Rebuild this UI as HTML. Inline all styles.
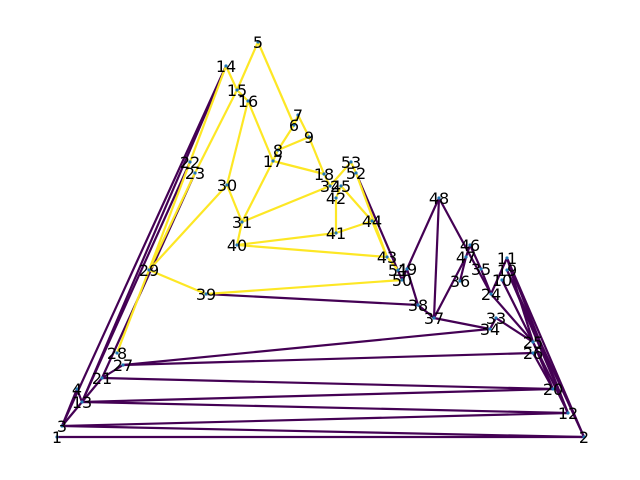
<!DOCTYPE html>
<html><head><meta charset="utf-8"><style>
body{margin:0;background:#fff}
svg{display:block}
text{font-family:"DejaVu Sans","Liberation Sans",sans-serif;font-size:16px;fill:#000}
</style></head><body>
<svg id="chart" width="640" height="480" viewBox="0 0 640 480"></svg>
<script>
const nodeIds=[1,2,3,4,5,6,7,8,9,10,11,12,13,14,15,16,17,18,19,20,21,22,23,24,25,26,27,28,29,30,31,32,33,34,35,36,37,38,39,40,41,42,43,44,45,46,47,48,49,50,51,52,53];
const nodeX=[57,584,62,77,258,294,298,278,309,502,507,568,82,226,237,248,273,324,507,553,102,190,195,491,533,533,123,117,149,227,242,330,496,490,481,460,434,418,206,237,336,336,387,372,341,470,466,439,407,402,398,356,351];
const nodeY=[437,437,426,389,42,125,115,150,137,280,258,413,402,66,90,101,161,174,270,389,378,162,173,294,342,353,365,353,270,185,222,186,318,329,269,281,318,305,294,245,233,198,257,221,186,245,257,198,269,280,270,173,162];
const yellowEdges=[[5,15],[14,15],[15,16],[16,30],[16,17],[30,31],[31,17],[31,32],[17,8],[17,18],[8,6],[8,9],[5,6],[6,7],[7,9],[9,18],[18,32],[32,53],[53,52],[45,44],[44,43],[52,43],[42,41],[42,45],[41,44],[41,40],[40,31],[40,43],[29,30],[29,39],[39,50],[14,22],[22,29],[15,23],[23,29],[28,29],[43,51]];
const purpleEdges=[[14,3],[14,13],[22,13],[23,21],[3,4],[3,13],[4,13],[13,21],[21,27],[1,2],[3,2],[3,12],[13,12],[13,20],[21,20],[27,26],[27,34],[39,38],[38,37],[37,34],[34,33],[33,25],[37,48],[48,49],[48,24],[49,38],[50,49],[52,50],[37,47],[47,46],[46,35],[35,24],[24,11],[24,25],[11,25],[11,12],[19,12],[19,2],[10,25],[26,20],[25,12],[11,2],[36,47],[25,20]];
const svg=document.getElementById('chart');
const NS='http://www.w3.org/2000/svg';
function px(id){return nodeX[nodeIds.indexOf(id)];}
function py(id){return nodeY[nodeIds.indexOf(id)];}
function drawEdges(list,color,label){
  list.forEach(e=>{
    const l=document.createElementNS(NS,'line');
    l.setAttribute('x1',px(e[0]));l.setAttribute('y1',py(e[0]));
    l.setAttribute('x2',px(e[1]));l.setAttribute('y2',py(e[1]));
    l.setAttribute('stroke',color);l.setAttribute('stroke-width','2.2');
    
    
    svg.appendChild(l);
  });
}
drawEdges(purpleEdges,'#440154','purple');
drawEdges(yellowEdges,'#fde725','yellow');
nodeIds.forEach((id,i)=>{
  const c=document.createElementNS(NS,'circle');
  c.setAttribute('cx',nodeX[i]);c.setAttribute('cy',nodeY[i]);c.setAttribute('r','1.6');
  c.setAttribute('fill','#1f77b4');
  
  
  svg.appendChild(c);
  const t=document.createElementNS(NS,'text');
  t.setAttribute('x',nodeX[i]);t.setAttribute('y',nodeY[i]+6);
  t.setAttribute('text-anchor','middle');
  t.textContent=id;
  
  
  svg.appendChild(t);
});
</script>
</body></html>
